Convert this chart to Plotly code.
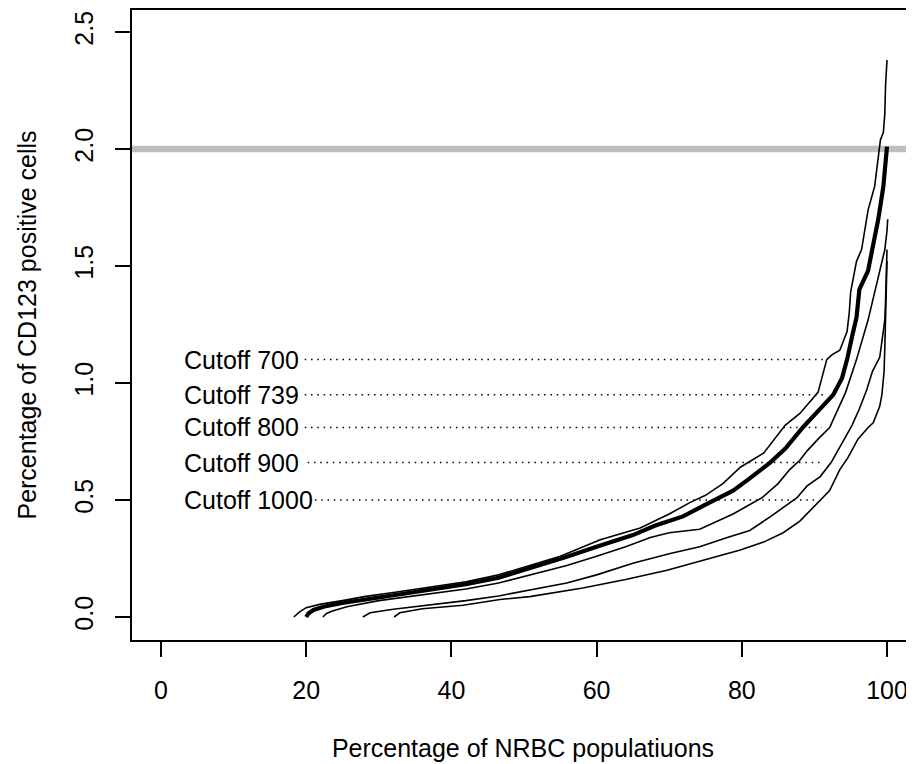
import plotly.graph_objects as go

# ---- data ----
c700_x = [18.3, 19.0, 20.0, 22.0, 25.0, 28.0, 32.0, 37.0, 42.0, 46.5, 50.8, 55.0, 60.5, 66.0, 70.0, 72.9, 75.0, 77.4, 79.8, 83.0, 86.0, 88.0, 90.5, 91.7, 92.4, 93.5, 94.5, 94.8, 95.0, 95.8, 96.5, 97.4, 98.3, 98.8, 99.1, 99.5, 99.7, 99.8, 100.0]
c700_y = [0.0, 0.02, 0.04, 0.055, 0.07, 0.087, 0.105, 0.128, 0.15, 0.18, 0.22, 0.26, 0.33, 0.38, 0.44, 0.49, 0.52, 0.57, 0.64, 0.70, 0.82, 0.87, 0.96, 1.10, 1.12, 1.14, 1.22, 1.30, 1.39, 1.52, 1.57, 1.74, 1.84, 1.98, 2.04, 2.07, 2.15, 2.27, 2.38]

c739_x = [20.0, 20.3, 21.0, 22.5, 25.0, 27.8, 32.0, 37.0, 42.0, 46.5, 51.0, 55.9, 60.0, 65.0, 68.0, 71.9, 75.0, 78.8, 81.0, 83.9, 86.0, 88.4, 90.5, 92.6, 93.8, 94.5, 95.2, 95.8, 96.2, 96.7, 97.4, 97.9, 98.8, 99.5, 99.8, 100.0]
c739_y = [0.0, 0.015, 0.03, 0.045, 0.06, 0.073, 0.092, 0.115, 0.14, 0.168, 0.21, 0.257, 0.30, 0.35, 0.39, 0.43, 0.48, 0.54, 0.59, 0.66, 0.72, 0.81, 0.88, 0.95, 1.02, 1.10, 1.20, 1.28, 1.40, 1.43, 1.48, 1.56, 1.70, 1.84, 1.96, 2.01]

c800_x = [22.3, 22.8, 23.5, 25.6, 30.0, 37.0, 42.0, 46.5, 51.0, 55.9, 60.0, 64.0, 67.4, 70.0, 74.2, 76.0, 78.8, 80.5, 82.8, 85.0, 86.6, 88.0, 89.0, 90.5, 92.1, 94.3, 95.8, 97.4, 98.3, 98.6, 99.2, 99.7, 100.0, 100.1]
c800_y = [0.0, 0.015, 0.025, 0.044, 0.07, 0.10, 0.12, 0.145, 0.18, 0.22, 0.26, 0.30, 0.34, 0.36, 0.375, 0.40, 0.44, 0.47, 0.51, 0.57, 0.63, 0.67, 0.71, 0.76, 0.81, 0.96, 1.10, 1.27, 1.39, 1.43, 1.50, 1.57, 1.65, 1.70]

c900_x = [27.8, 28.3, 28.8, 32.0, 37.0, 42.0, 46.5, 51.0, 55.9, 60.0, 65.0, 70.0, 74.2, 78.0, 81.1, 84.0, 86.6, 87.6, 89.0, 90.8, 92.3, 93.0, 93.8, 95.2, 96.2, 97.2, 98.0, 99.0, 99.4, 99.7, 99.8, 99.9, 100.0]
c900_y = [0.0, 0.01, 0.018, 0.033, 0.05, 0.07, 0.09, 0.115, 0.145, 0.18, 0.23, 0.27, 0.30, 0.34, 0.37, 0.43, 0.49, 0.51, 0.56, 0.60, 0.66, 0.70, 0.74, 0.82, 0.89, 0.97, 1.05, 1.11, 1.20, 1.27, 1.35, 1.45, 1.57]

c1000_x = [32.1, 32.5, 32.9, 36.0, 41.6, 46.7, 50.8, 58.1, 64.0, 69.7, 75.0, 79.8, 83.0, 85.7, 88.0, 90.8, 92.1, 93.5, 94.6, 96.0, 97.4, 98.1, 99.0, 99.3, 99.6, 99.7, 99.8, 99.9, 100.0]
c1000_y = [0.0, 0.01, 0.018, 0.035, 0.05, 0.075, 0.087, 0.124, 0.16, 0.20, 0.245, 0.286, 0.32, 0.36, 0.41, 0.50, 0.54, 0.63, 0.68, 0.76, 0.81, 0.83, 0.90, 0.95, 1.05, 1.15, 1.26, 1.40, 1.52]

cutoff_labels = ["Cutoff 700", "Cutoff 739", "Cutoff 800", "Cutoff 900", "Cutoff 1000"]
cutoff_y = [1.10, 0.95, 0.81, 0.66, 0.50]
cutoff_x_start = [19.8, 19.8, 19.8, 20.2, 21.2]
cutoff_x_end = [91.7, 91.8, 91.0, 91.2, 90.3]
label_x = 3.0
threshold_y = 2.0

x_ticks = [0, 20, 40, 60, 80, 100]
y_ticks = [0.0, 0.5, 1.0, 1.5, 2.0, 2.5]
y_ticktext = ["0.0", "0.5", "1.0", "1.5", "2.0", "2.5"]

FONT = "Liberation Sans, Arial, Helvetica, sans-serif"

fig = go.Figure()

# threshold line
fig.add_trace(go.Scatter(x=[-10, 110], y=[threshold_y, threshold_y], mode="lines",
                         line=dict(color="#bebebe", width=6.5), hoverinfo="skip", showlegend=False))

# cutoff dotted lines
for xs, xe, yv in zip(cutoff_x_start, cutoff_x_end, cutoff_y):
    fig.add_trace(go.Scatter(x=[xs, xe], y=[yv, yv], mode="lines",
                             line=dict(color="black", width=1.5, dash="1.5px,4.8px"),
                             hoverinfo="skip", showlegend=False))

# curves
for cx, cy, w in [(c700_x, c700_y, 1.6), (c800_x, c800_y, 1.6), (c900_x, c900_y, 1.6),
                  (c1000_x, c1000_y, 1.6), (c739_x, c739_y, 4.2)]:
    fig.add_trace(go.Scatter(x=cx, y=cy, mode="lines", line=dict(color="black", width=w),
                             showlegend=False))

for lab, yv in zip(cutoff_labels, cutoff_y):
    fig.add_annotation(x=label_x, y=yv, text=lab, showarrow=False, xanchor="left",
                       yanchor="middle", font=dict(family=FONT, size=25, color="black"),
                       borderpad=0)

# page body has an 8px margin; figure sized/offset to compensate
fig.update_layout(
    width=906, height=756,
    margin=dict(l=124, r=0, t=2, b=124),
    paper_bgcolor="white", plot_bgcolor="white",
    font=dict(family=FONT, size=25, color="black"),
    xaxis=dict(range=[-3.994, 103.72], tickvals=x_ticks, ticks="outside", ticklen=15,
               tickwidth=1.5, tickcolor="black", showline=True, linewidth=1.5,
               linecolor="black", mirror=True, showgrid=False, zeroline=False,
               tickfont=dict(size=25), ticklabelstandoff=12,
               title=dict(text="Percentage of NRBC populatiuons", font=dict(size=25), standoff=37)),
    yaxis=dict(range=[-0.0983, 2.594], tickvals=y_ticks, ticktext=y_ticktext, ticks="outside",
               ticklen=15, tickwidth=1.5, tickcolor="black", showline=True, linewidth=1.5,
               linecolor="black", mirror=False, showgrid=False, zeroline=False,
               tickangle=-90, tickfont=dict(size=25), ticklabelstandoff=12,
               title=dict(text="Percentage of CD123 positive cells", font=dict(size=25), standoff=27)),
)

fig.write_html("out.html")
